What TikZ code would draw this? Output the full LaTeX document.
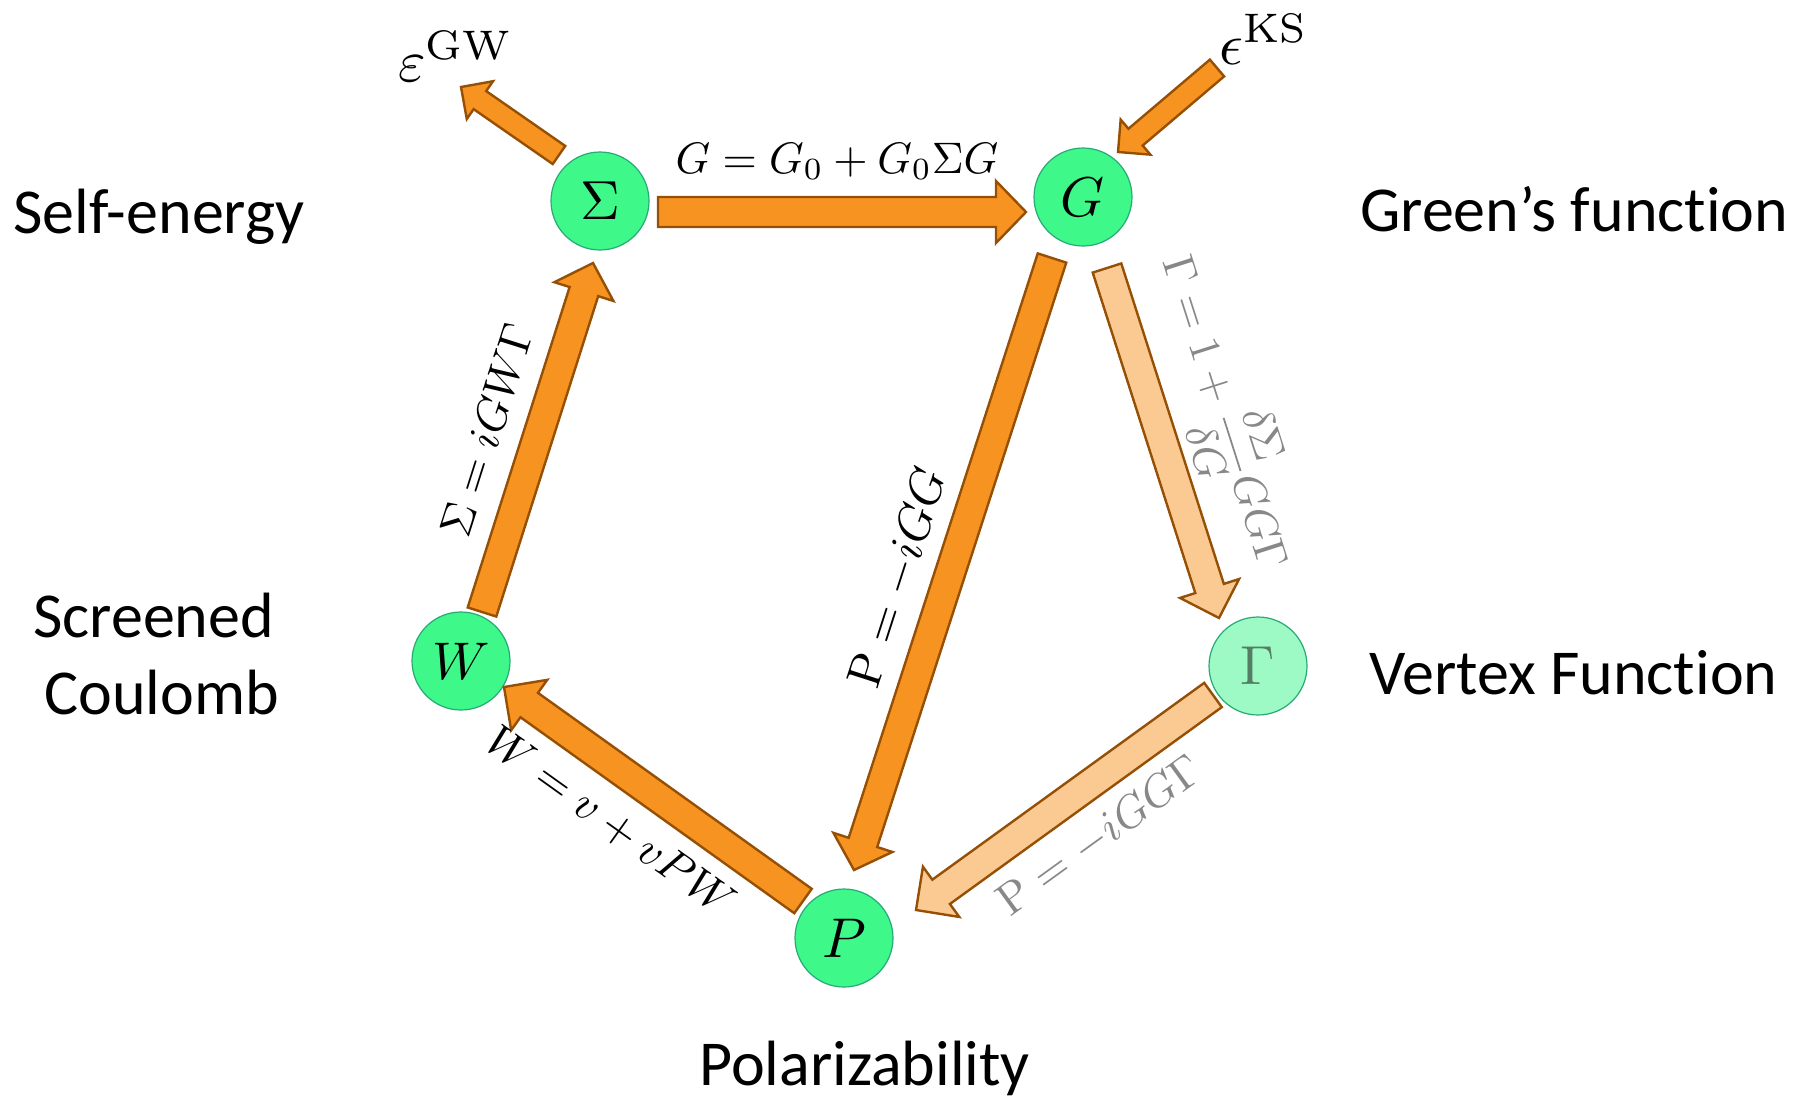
\documentclass[tikz,border=0pt]{standalone}
\usepackage{fontspec}
\usepackage{graphicx}
\newfontfamily\carl[Ligatures={NoCommon}]{Carlito}
\usetikzlibrary{calc}
\definecolor{nodegreen}{RGB}{62,248,138}
\definecolor{nodelight}{RGB}{157,250,196}
\definecolor{nodeedge}{RGB}{38,170,120}
\definecolor{arrfill}{RGB}{247,147,32}
\definecolor{arrlight}{RGB}{251,201,146}
\definecolor{arredge}{RGB}{150,80,5}
\definecolor{labgray}{RGB}{136,136,136}
\definecolor{gammatext}{RGB}{85,125,100}
\tikzset{
  circ/.style={circle, draw=nodeedge, line width=1.2pt, fill=nodegreen, minimum size=98pt, inner sep=0pt},
  circlight/.style={circ, fill=nodelight, text=gammatext},
  barrow/.style={draw=arredge, fill=arrfill, line width=2.4pt, line join=miter},
  barrowlight/.style={barrow, fill=arrlight},
  eqlab/.style={inner sep=0pt, scale=4.5},
  graylab/.style={eqlab, text=labgray},
  sidelab/.style={inner sep=0pt, anchor=base west, font=\carl\fontsize{64}{76}\selectfont},
}
% #1 style, #2 name, #3 tail, #4 tip, #5 shaft half width, #6 head half width, #7 head length
\newcommand\blockarr[7]{%
  \coordinate (#2-t) at #3;
  \coordinate (#2-h) at #4;
  \coordinate (#2-b) at ($(#2-h)!#7!(#2-t)$);
  \draw[#1] ($(#2-t)!#5!90:(#2-h)$) -- ($(#2-b)!#5!-90:(#2-t)$) -- ($(#2-b)!#6!-90:(#2-t)$)
     -- (#2-h) -- ($(#2-b)!#6!90:(#2-t)$) -- ($(#2-b)!#5!90:(#2-t)$) -- ($(#2-t)!#5!-90:(#2-h)$) -- cycle;
}
\begin{document}
\begin{tikzpicture}[x=1pt,y=-1pt]
\useasboundingbox (0,0) rectangle (1793,1098);
% nodes
\node[circ] (S) at (600,201) {\scalebox{5.5}{$\Sigma$}};
\node[circ] (G) at (1083,197) {\scalebox{5.6}{$G$}};
\node[circlight] (Gm) at (1258,666) {\scalebox{5.5}{$\Gamma$}};
\node[circ] (W) at (461,661) {\scalebox{5.3}{$W$}};
\node[circ] (P) at (844,938) {\scalebox{5.6}{$P$}};
\node[inner sep=0pt, scale=5.9, anchor=base west] (egw) at (397,81) {$\varepsilon^{\mathrm{GW}}$};
\node[inner sep=0pt, scale=5.9, anchor=base west] (eks) at (1218,64) {$\epsilon^{\mathrm{KS}}$};
% side labels
\node[sidelab] (lse) at (13,233) {Self-energy};
\node[sidelab] (lgf) at (1360,231) {Green’s function};
\node[sidelab] (lsc1) at (33,637) {Screened};
\node[sidelab] (lsc2) at (44,714) {Coulomb};
\node[sidelab] (lvf) at (1369,694) {Vertex Function};
\node[sidelab] (lpo) at (699,1085) {Polarizability};
% arrows
\blockarr{barrow}{sg}{($(S)+(58,11)$)}{($(G)+(-57,15)$)}{15pt}{31pt}{30pt}
\blockarr{barrow}{se}{($(S)+(-41,-46)$)}{($(S)+(-139,-114)$)}{11pt}{23pt}{23pt}
\blockarr{barrow}{kg}{($(G)+(134,-129)$)}{($(G)+(35,-45)$)}{11pt}{23pt}{23pt}
\blockarr{barrow}{ws}{($(W)+(21,-49)$)}{($(S)+(-7,62)$)}{15pt}{31pt}{30pt}
\blockarr{barrow}{gp}{($(G)+(-31,61)$)}{($(P)+(10,-68)$)}{15pt}{31pt}{29pt}
\blockarr{barrow}{pw}{($(P)+(-41,-37)$)}{($(W)+(43,26)$)}{15pt}{31pt}{31pt}
\blockarr{barrowlight}{gg}{($(G)+(24,71)$)}{($(Gm)+(-39,-48)$)}{15pt}{31pt}{31pt}
\blockarr{barrowlight}{gmp}{($(Gm)+(-45,29)$)}{($(P)+(72,-28)$)}{15pt}{31pt}{31pt}
% arrow labels
\node[eqlab, scale=0.98, anchor=base] (lsg) at (837,173) {$G = G_0 + G_0\Sigma G$};
\node[eqlab, rotate=72.4] (lws) at (487,430) {$\Sigma = iGW\Gamma$};
\node[eqlab, scale=1.07, rotate=72.1] (lgp) at (899,578) {$\mathrm{P} = -iGG$};
\node[eqlab, rotate=-35.6] (lpw) at (610,822) {$W = v + vPW$};
\node[graylab, scale=0.98, rotate=-72.3] (lgg) at (1226,412) {$\Gamma = 1 + {\displaystyle\frac{\delta\Sigma}{\delta G}}GG\Gamma$};
\node[graylab, rotate=35.9] (lgmp) at (1100,836) {$\mathrm{P} = -iGG\Gamma$};
\end{tikzpicture}
\end{document}
